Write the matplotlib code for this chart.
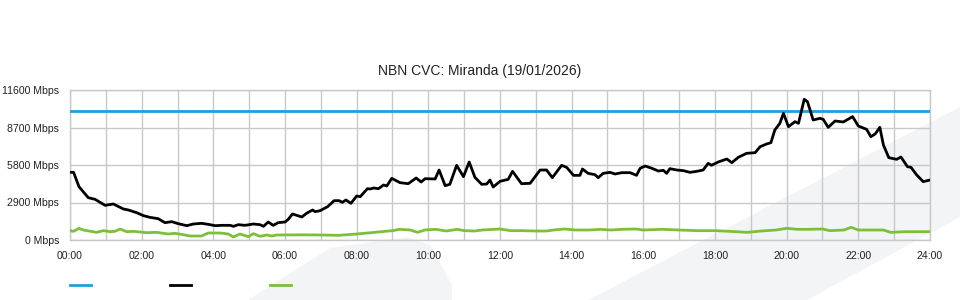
import matplotlib
matplotlib.use("Agg")
import matplotlib.pyplot as plt
from matplotlib.lines import Line2D
from matplotlib.patches import Polygon

plt.rcParams['font.family'] = ['Liberation Sans', 'DejaVu Sans']

title = "NBN CVC: Miranda (19/01/2026)"
capacity_mbps = 10000
y_ticks = [0, 2900, 5800, 8700, 11600]
y_tick_labels = ["0 Mbps", "2900 Mbps", "5800 Mbps", "8700 Mbps", "11600 Mbps"]
x_ticks = list(range(0, 25, 2))
x_tick_labels = ["00:00", "02:00", "04:00", "06:00", "08:00", "10:00", "12:00",
                 "14:00", "16:00", "18:00", "20:00", "22:00", "24:00"]

# main traffic series (hours, Mbps)
traffic_t = [0.0, 0.1, 0.25, 0.51, 0.70, 0.98, 1.21, 1.49, 1.63, 1.86, 2.05, 2.23, 2.46,
             2.65, 2.84, 3.02, 3.26, 3.44, 3.67, 3.86, 4.05, 4.23, 4.47, 4.56, 4.70,
             4.88, 5.12, 5.30, 5.40, 5.53, 5.67, 5.81, 6.0, 6.09, 6.21, 6.33, 6.47,
             6.60, 6.77, 6.84, 6.98, 7.19, 7.37, 7.51, 7.6, 7.7, 7.84, 8.0, 8.1, 8.30,
             8.38, 8.47, 8.61, 8.75, 8.84, 8.98, 9.21, 9.44, 9.66, 9.8, 9.91, 10.19,
             10.30, 10.47, 10.60, 10.79, 10.98, 11.14, 11.30, 11.49, 11.63, 11.72,
             11.81, 12.0, 12.23, 12.35, 12.60, 12.84, 13.12, 13.30, 13.46, 13.72,
             13.86, 14.05, 14.23, 14.30, 14.46, 14.65, 14.74, 14.88, 15.07, 15.21,
             15.40, 15.63, 15.81, 15.91, 16.05, 16.24, 16.42, 16.56, 16.65, 16.74,
             16.93, 17.12, 17.30, 17.49, 17.67, 17.81, 17.9, 18.09, 18.33, 18.47,
             18.65, 18.88, 19.12, 19.26, 19.44, 19.56, 19.67, 19.81, 19.91, 20.05,
             20.23, 20.33, 20.49, 20.58, 20.74, 20.93, 21.02, 21.16, 21.35, 21.58,
             21.84, 22.0, 22.23, 22.35, 22.47, 22.60, 22.70, 22.85, 23.07, 23.19,
             23.37, 23.47, 23.63, 23.81, 24.0]
traffic_v = [5235, 5235, 4125, 3273, 3145, 2680, 2784, 2397, 2320, 2114, 1882, 1753, 1650,
             1341, 1418, 1263, 1108, 1237, 1289, 1211, 1108, 1134, 1134, 1057, 1186,
             1134, 1237, 1186, 1057, 1392, 1134, 1341, 1392, 1598, 2011, 1908, 1779,
             2062, 2320, 2191, 2268, 2578, 3041, 3041, 2912, 3093, 2835, 3402, 3351, 3970,
             3944, 4021, 3970, 4253, 4176, 4769, 4434, 4356, 4795, 4485, 4743, 4717,
             5413, 4202, 4305, 5775, 4898, 6032, 4846, 4305, 4330, 4640,
             4098, 4537, 4692, 5310, 4356, 4382, 5413, 5413, 4820, 5775,
             5620, 5000, 5000, 5490, 5155, 5052, 4820, 5155, 5232, 5104,
             5207, 5207, 5000, 5542, 5722, 5542, 5336, 5387, 5155, 5516,
             5413, 5362, 5232, 5310, 5413, 5929, 5775, 6032, 6264, 5980,
             6393, 6702, 6754, 7218, 7424, 7527, 8507, 9023, 9796, 8765,
             9152, 9023, 10880, 10700, 9280, 9410, 9332, 8713, 9203, 9126,
             9539, 8816, 8558, 7991, 8197, 8713, 7347, 6367, 6238, 6418,
             5670, 5620, 5027, 4511, 4640]

# secondary (green) series (hours, Mbps)
green_t = [0.0, 0.1, 0.25, 0.37, 0.74, 0.93, 1.12, 1.25, 1.40, 1.58, 1.77, 1.95, 2.14,
           2.42, 2.74, 2.93, 3.16, 3.35, 3.67, 3.86, 4.19, 4.42, 4.56, 4.74, 4.98,
           5.12, 5.30, 5.49, 5.63, 5.77, 6.5, 7.0, 7.5, 8.0, 8.5, 9.0, 9.2, 9.5, 9.7,
           9.9, 10.2, 10.5, 10.8, 11.0, 11.3, 11.5, 12.0, 12.3, 12.6, 13.0, 13.3,
           13.5, 13.8, 14.1, 14.5, 14.8, 15.1, 15.4, 15.8, 16.0, 16.5, 17.0, 17.5,
           18.0, 18.4, 18.9, 19.3, 19.7, 20.0, 20.3, 20.6, 21.0, 21.2, 21.6, 21.8,
           22.0, 22.3, 22.7, 22.9, 23.3, 23.6, 24.0]
green_v = [722, 670, 902, 773, 593, 722, 644, 670, 850, 644, 670, 619, 567,
           593, 464, 515, 412, 309, 309, 541, 541, 464, 232, 464, 258,
           490, 283, 387, 309, 387, 400, 387, 361, 464, 593, 722, 825, 773, 593,
           773, 825, 696, 825, 722, 696, 773, 850, 722, 722, 696, 696,
           773, 850, 773, 773, 825, 773, 825, 850, 773, 825, 773, 722,
           722, 670, 593, 696, 773, 902, 825, 825, 850, 722, 773, 979,
           773, 773, 773, 593, 644, 644, 644]

fig = plt.figure(figsize=(9.6, 3.0), dpi=100)
fig.patch.set_facecolor("white")

# faint watermark shapes in background
band_color = "#f3f4f6"
fig.add_artist(Polygon([(588/960, 0), (1.0, 1 - 107/300), (1.0, 1 - 217/300), (807/960, 0)],
                       closed=True, transform=fig.transFigure, facecolor=band_color,
                       edgecolor="none", zorder=0))
fig.add_artist(Polygon([(248/960, 0), (330/960, 1 - 248/300), (408/960, 1 - 237/300),
                        (430/960, 1 - 245/300), (452/960, 1 - 285/300), (452/960, 0)],
                       closed=True, transform=fig.transFigure, facecolor=band_color,
                       edgecolor="none", zorder=0))

ax = fig.add_axes([70/960, 60/300, 860/960, 150/300])
ax.set_facecolor("none")
ax.set_zorder(1)

ax.plot([0, 24], [capacity_mbps, capacity_mbps], color="#1ea0dc", lw=2.0, zorder=3)
ax.plot(green_t, green_v, color="#7cc03a", lw=2.0, zorder=3)
ax.plot(traffic_t, traffic_v, color="#000000", lw=2.0, zorder=4)

ax.set_xlim(0, 24)
ax.set_ylim(0, 11600)
ax.set_xticks(x_ticks)
ax.set_xticklabels(x_tick_labels)
ax.set_xticks(range(0, 25), minor=True)
ax.set_yticks(y_ticks)
ax.set_yticklabels(y_tick_labels)

ax.grid(True, which="both", axis="x", color="#c8c8c8", lw=1.0)
ax.grid(True, which="major", axis="y", color="#c8c8c8", lw=1.0)
for s in ax.spines.values():
    s.set_color("#c8c8c8")
    s.set_linewidth(1.0)
ax.tick_params(axis="both", which="both", length=0, labelsize=7.6, colors="#222222")
ax.tick_params(axis="x", pad=8)
ax.tick_params(axis="y", pad=8)
ax.set_axisbelow(True)

fig.text(0.5, 1 - 71/300, title, ha="center", va="center", fontsize=10, color="#222222")

# legend swatches (no labels)
for x0, c in [(70, "#1ea0dc"), (170, "#000000"), (270, "#7cc03a")]:
    fig.add_artist(Line2D([x0/960, (x0 + 21)/960], [1 - 285/300, 1 - 285/300],
                          color=c, lw=2.0, transform=fig.transFigure))

fig.savefig("out.png", dpi=100, facecolor="white")
